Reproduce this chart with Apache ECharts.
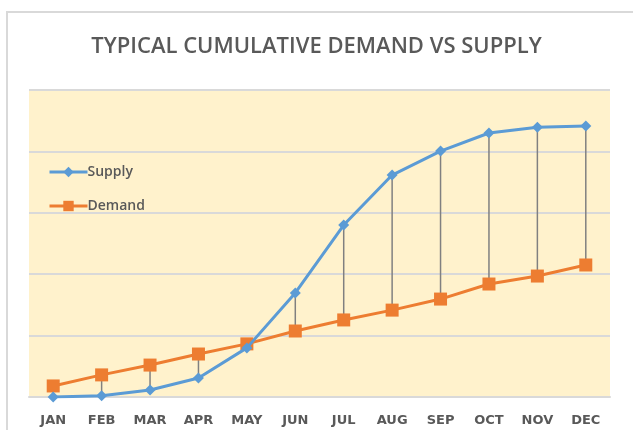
<!DOCTYPE html>
<html>
<head>
<meta charset="utf-8">
<script src="https://cdn.jsdelivr.net/npm/echarts@6/dist/echarts.min.js"></script>
<style>
  html, body { margin: 0; padding: 0; background: #fff; }
  #chart { width: 633px; height: 430px; }
</style>
</head>
<body>
<div id="chart"></div>
<script>
// months along the x axis
const months = ['JAN', 'FEB', 'MAR', 'APR', 'MAY', 'JUN', 'JUL', 'AUG', 'SEP', 'OCT', 'NOV', 'DEC'];
// cumulative values (no scale shown in the original, read as 0..100)
const supply = [0, 0.4, 2.3, 6.2, 16.0, 33.9, 56.0, 72.3, 80.1, 86.0, 87.9, 88.3];
const demand = [3.6, 7.2, 10.4, 14.0, 17.3, 21.5, 25.1, 28.3, 31.9, 36.8, 39.4, 43.0];

const chart = echarts.init(document.getElementById('chart'));

const textGray = '#595959';

const option = {
  animation: false,
  title: {
    text: 'TYPICAL CUMULATIVE DEMAND VS SUPPLY',
    left: 'center',
    top: 31,
    textStyle: {
      fontFamily: 'Open Sans',
      fontSize: 22,
      fontWeight: 600,
      color: textGray
    }
  },
  // outer chart border
  graphic: [{
    type: 'rect',
    shape: { x: 7, y: 12, width: 640, height: 440 },
    style: { fill: 'none', stroke: '#D9D9D9', lineWidth: 2 },
    silent: true,
    z: -1
  }],
  legend: {
    orient: 'vertical',
    left: 43,
    top: 160,
    itemWidth: 38,
    itemHeight: 13,
    itemGap: 20,
    lineStyle: { width: 3 },
    textStyle: {
      fontFamily: 'Open Sans',
      fontSize: 14,
      fontWeight: 600,
      color: textGray,
      padding: [0, 0, 0, -5]
    },
    data: ['Supply', 'Demand']
  },
  grid: {
    left: 29,
    right: 23,
    top: 90,
    bottom: 33,
    show: true,
    backgroundColor: '#FFF2CC',
    borderWidth: 0
  },
  xAxis: {
    type: 'category',
    data: months,
    boundaryGap: true,
    axisLine: { lineStyle: { color: '#D9D9D9', width: 2 } },
    axisTick: { show: false },
    axisLabel: {
      fontFamily: 'DejaVu Sans',
      fontSize: 13,
      fontWeight: 'bold',
      color: textGray,
      margin: 17
    }
  },
  yAxis: {
    type: 'value',
    min: 0,
    max: 100,
    interval: 20,
    axisLine: { show: false },
    axisTick: { show: false },
    axisLabel: { show: false },
    splitLine: { lineStyle: { color: '#D9D9D9', width: 2 } }
  },
  series: [
    {
      // high-low drop lines between the two series
      name: 'drop',
      type: 'custom',
      z: 1,
      silent: true,
      data: months.map((m, i) => [i, supply[i], demand[i]]),
      encode: { x: 0, y: [1, 2] },
      renderItem: function (params, api) {
        const a = api.coord([api.value(0), api.value(1)]);
        const b = api.coord([api.value(0), api.value(2)]);
        return {
          type: 'line',
          shape: { x1: a[0], y1: a[1], x2: b[0], y2: b[1] },
          style: { stroke: '#808080', lineWidth: 1.5 }
        };
      }
    },
    {
      name: 'Supply',
      type: 'line',
      z: 3,
      data: supply,
      symbol: 'diamond',
      symbolSize: 11,
      itemStyle: { color: '#5B9BD5' },
      lineStyle: { color: '#5B9BD5', width: 3 }
    },
    {
      name: 'Demand',
      type: 'line',
      z: 2,
      data: demand,
      symbol: 'rect',
      symbolSize: 13,
      itemStyle: { color: '#ED7D31' },
      lineStyle: { color: '#ED7D31', width: 3 }
    }
  ]
};

chart.setOption(option);
</script>
</body>
</html>
